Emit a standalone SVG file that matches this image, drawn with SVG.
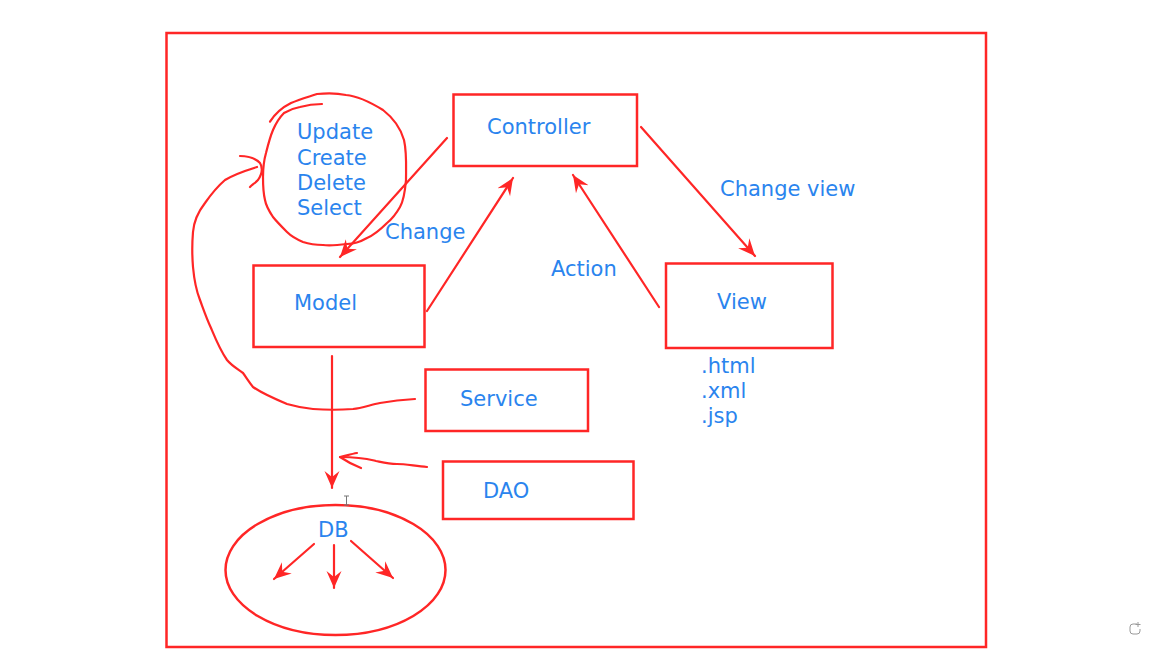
<svg xmlns="http://www.w3.org/2000/svg" width="1154" height="652" viewBox="0 0 1154 652">
<style>
.box{fill:none;stroke:#ff2626;stroke-width:2.5}
.ln{fill:none;stroke:#ff2626;stroke-width:2.2;stroke-linecap:round;stroke-linejoin:round}
.t{font-family:"DejaVu Sans",Verdana,sans-serif;font-size:21px;fill:#2a84ee}
</style>
<defs>
<marker id="ah" markerUnits="userSpaceOnUse" markerWidth="20" markerHeight="18" refX="17" refY="9" orient="auto">
<path d="M0,1.5 L17,9 L0,16.5 L6,9 z" fill="#ff2626"/>
</marker>
</defs>
<rect width="1154" height="652" fill="#ffffff"/>
<rect class="box" x="166.5" y="33" width="819.5" height="614"/>

<g id="controller"><rect class="box" x="453.5" y="94.5" width="183.5" height="71.5"/><text class="t" x="487" y="134">Controller</text></g>
<g id="model"><rect class="box" x="253.5" y="265.5" width="171" height="81.5"/><text class="t" x="294" y="310">Model</text></g>
<g id="view"><rect class="box" x="666" y="263.5" width="166.5" height="84.5"/><text class="t" x="717" y="309">View</text>
<text class="t" x="701" y="373">.html</text><text class="t" x="701" y="398">.xml</text><text class="t" x="701" y="423">.jsp</text></g>
<g id="service"><rect class="box" x="425.5" y="369.5" width="162.5" height="61.5"/><text class="t" x="460" y="406">Service</text></g>
<g id="dao"><rect class="box" x="443" y="461.5" width="190.5" height="57.5"/><text class="t" x="483" y="498">DAO</text></g>
<g id="db"><ellipse class="box" cx="335.5" cy="570" rx="110" ry="65"/><text class="t" x="318" y="537">DB</text></g>
<g id="crud">
<path class="ln" d="M270,121.7 C276,112 283,107 291,103 C300,99 308,97 317,94 C327,93 337,93 346,95 C357,96 370,102 383,110 C392,117 400,126 404,140 C407,153 406,168 406,180 C405,192 404,200 400,207 C396,214 392,219 387,223 C380,230 374,235 367,238 C360,242 353,244 347,244 C339,245 331,246 323,245 C316,245 309,244 303,242 C296,239 291,236 287,232 C282,227 277,222 273,217 C269,211 266,206 265,200 C263,192 263,184 263,177 C263,168 264,160 266,153 C268,145 270,137 273,130 C276,123 279,118 284,113 C289,110 294,108 300,107 C307,105 314,104 322,104"/>
<text class="t" x="297" y="139">Update</text><text class="t" x="297" y="165">Create</text><text class="t" x="297" y="190">Delete</text><text class="t" x="297" y="215">Select</text>
</g>
<g id="connectors">
<line class="ln" x1="447" y1="138" x2="340" y2="257" marker-end="url(#ah)"/>
<line class="ln" x1="427" y1="311" x2="513" y2="178" marker-end="url(#ah)"/>
<line class="ln" x1="641" y1="127" x2="755" y2="256" marker-end="url(#ah)"/>
<line class="ln" x1="659" y1="307" x2="573" y2="175" marker-end="url(#ah)"/>
<line class="ln" x1="332" y1="356" x2="332" y2="488" marker-end="url(#ah)"/>
<path class="ln" d="M427,467 C415,466 405,464 397,464 C388,464 381,462 376,461 C368,459 362,457 340,457"/>
<path class="ln" d="M357,453 C351,454 345,456 340,457 C346,461 353,465 361,468"/>
<path class="ln" d="M415,399 C400,400 392,401 380,403 C370,405 362,408 353,409 C340,410 326,410 313,409 C302,408 294,406 287,404 C275,399 263,394 253,387 C249,382 246,377 243,373 C236,368 231,365 227,360 C220,350 216,340 211,328 C206,317 203,308 200,300 C196,290 194,278 193,267 C192,255 192,244 193,232 C194,220 198,212 205,203 C212,193 218,186 225,180 C233,175 244,171 257,167"/>
<path class="ln" d="M240,156 C248,156 256,159 260,163 C263,168 262,174 258,180 C255,183 252,185 250,187"/>
<line class="ln" x1="314" y1="544" x2="274" y2="579" marker-end="url(#ah)"/>
<line class="ln" x1="334" y1="545" x2="334" y2="588" marker-end="url(#ah)"/>
<line class="ln" x1="351" y1="541" x2="393" y2="578" marker-end="url(#ah)"/>
</g>
<text class="t" x="385" y="239">Change</text>
<text class="t" x="720" y="196">Change view</text>
<text class="t" x="551" y="276">Action</text>
<path d="M344,496 H349 M346.5,496 V505 M344,505 H349" fill="none" stroke="#777" stroke-width="1"/>
<path d="M1137,624 H1133 Q1130,624 1130,627 V631 Q1130,634 1133,634 H1137 Q1140,634 1140,631 V629 M1138,622 V627 M1135.5,624.5 H1140.5" fill="none" stroke="#999" stroke-width="1"/>
</svg>
